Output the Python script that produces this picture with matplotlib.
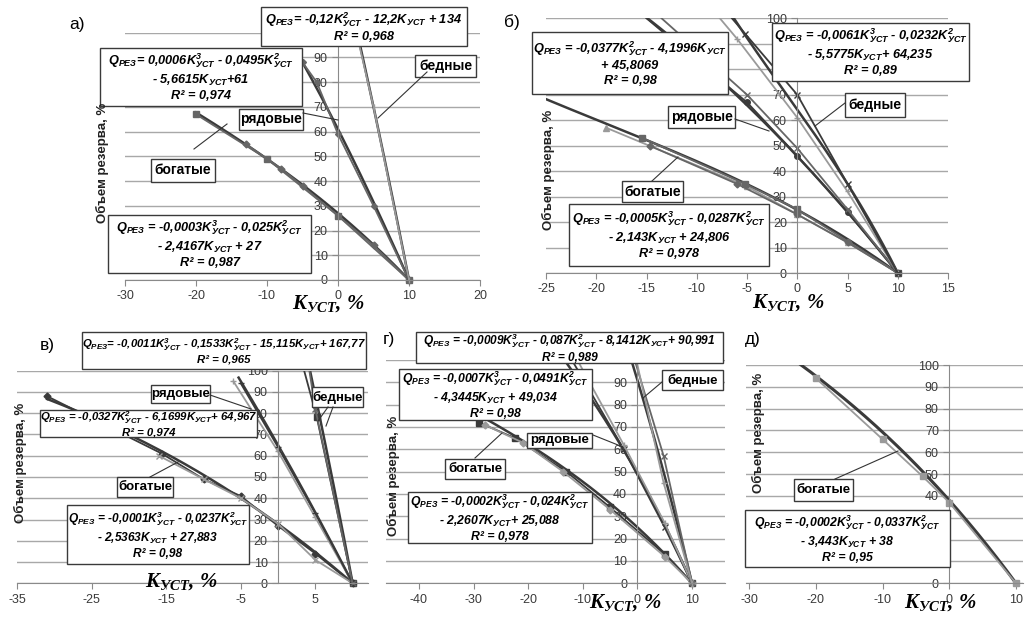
import numpy as np
import matplotlib.pyplot as plt
from matplotlib.patches import Rectangle
from matplotlib.lines import Line2D

plt.rcParams['axes.unicode_minus'] = False
plt.rcParams['font.family'] = ['Liberation Sans', 'DejaVu Sans']

W, H = 1028, 619

# ---------------- data ----------------
# trend coefficients (highest power first), as printed on the chart
a_tr_rich = [-0.0003, -0.025, -2.4167, 27]
a_tr_ord = [0.0006, -0.0495, -5.6615, 61]
a_tr_poor = [-0.12, -12.2, 134]
b_tr_rich = [-0.0005, -0.0287, -2.143, 24.806]
b_tr_ord = [-0.0377, -4.1996, 45.8069]
b_tr_poor = [-0.0061, -0.0232, -5.5775, 64.235]
v_tr_rich = [-0.0001, -0.0237, -2.5363, 27.883]
v_tr_ord = [-0.0327, -6.1699, 64.967]
v_tr_poor = [-0.0011, -0.1533, -15.115, 167.77]
g_tr_rich = [-0.0002, -0.024, -2.2607, 25.088]
g_tr_ord = [-0.0007, -0.0491, -4.3445, 49.034]
g_tr_poor = [-0.0009, -0.087, -8.1412, 90.991]
d_tr_rich = [-0.0002, -0.0337, -3.443, 38]

# panel а
a_rich1_x = [-20, -10, 0, 10]
a_rich1_y = [67, 49, 26, 0]
a_rich2_x = [-13, -8, -5, 5, 10]
a_rich2_y = [55, 45, 38, 14, 0]
a_ord_x = [-5, -3, 0, 5, 10]
a_ord_y = [88, 80, 59, 30, 0]
a_poor_x = [2.6, 5, 10]
a_poor_y = [100, 70, 0]

# panel б
b_rich1_x = [-19, -5, 0, 5, 10]
b_rich1_y = [57, 34, 23, 12, 0]
b_rich2_x = [-15.4, -5.2, 0, 10]
b_rich2_y = [53, 35, 25, 0]
b_rich3_x = [-14.7, -6, 0, 5, 10]
b_rich3_y = [50, 35, 23, 12, 0]
b_ord1_x = [-15, -5, 0, 5, 10]
b_ord1_y = [100, 67, 46, 24, 0]
b_ord2_x = [-13.5, -5, 0, 5, 10]
b_ord2_y = [100, 70, 49, 25, 0]
b_poor1_x = [-7.7, -6, 0, 5, 10]
b_poor1_y = [100, 92, 61, 32, 0]
b_poor2_x = [-6.5, -5.2, 0, 5, 10]
b_poor2_y = [100, 94, 70, 35, 0]

# panel в
v_rich1_x = [-31, -15.6, -10, -5, 0, 5, 10]
v_rich1_y = [88, 61, 49, 41, 27, 14, 0]
v_rich2_x = [-16, -10, -5, 0, 5, 10]
v_rich2_y = [60, 49, 40, 28, 11, 0]
v_ord1_x = [-6, 0, 5, 10]
v_ord1_y = [95, 62, 31, 0]
v_ord2_x = [-5, 0, 5, 10]
v_ord2_y = [94, 64, 33, 0]
v_poor1_x = [3.5, 5.2, 10]
v_poor1_y = [100, 78, 0]
v_poor2_x = [4.2, 5, 10]
v_poor2_y = [100, 82, 0]

# panel г
g_rich1_x = [-29, -22.4, -13, -5, 5, 10]
g_rich1_y = [72, 65, 50, 34, 13, 0]
g_rich2_x = [-28, -21, -13.6, -5, 5, 10]
g_rich2_y = [71, 63, 50, 33, 12, 0]
g_ord1_x = [-12, -2.5, 5, 10]
g_ord1_y = [100, 60, 25, 0]
g_ord2_x = [-11, -2.5, 5, 10]
g_ord2_y = [100, 62, 27, 0]
g_poor1_x = [-0.5, 4.8, 10]
g_poor1_y = [100, 57, 0]
g_poor2_x = [-0.2, 4.8, 10]
g_poor2_y = [100, 45, 0]

# panel д
d_rich_x = [-20, -10, -4, 0, 10]
d_rich_y = [94, 66, 49, 37, 0]

DARK = '#3a3a3a'
MID = '#666666'
LIGHT = '#9a9a9a'

fig = plt.figure(figsize=(W / 100, H / 100), dpi=100)


def fx(x):
    return x / W


def fy(y):
    return 1 - y / H


def make_axes(l, t, r, b, xlim, xticks):
    ax = fig.add_axes([fx(l), fy(b), (r - l) / W, (b - t) / H])
    ax.set_xlim(*xlim)
    ax.set_ylim(0, 100)
    ax.set_xticks(xticks)
    ax.set_yticks(range(0, 101, 10))
    ax.spines['top'].set_visible(False)
    ax.spines['right'].set_visible(False)
    ax.spines['left'].set_position(('data', 0))
    for s in ('left', 'bottom'):
        ax.spines[s].set_color('#8a8a8a')
    ax.tick_params(colors='#8a8a8a', labelcolor='#3a3a3a', labelsize=9,
                   length=4, direction='out')
    ax.grid(axis='y', color='#a8a8a8', lw=1)
    ax.set_axisbelow(True)
    ax.patch.set_alpha(0)
    return ax


def series(ax, x, y, color, marker, ms=4.5, lw=1.3):
    ax.plot(x, y, color=color, lw=lw)
    x = np.asarray(x)
    y = np.asarray(y)
    keep = y < 100
    ax.plot(x[keep], y[keep], ls='none', marker=marker, ms=ms, color=color,
            mec=color, clip_on=False)


def trend(ax, coef, x0, x1, lw=1.8, color=DARK):
    xs = np.linspace(x0, x1, 200)
    ax.plot(xs, np.polyval(coef, xs), color=color, lw=lw)


def box(l, t, r, b, text, size=9.2, italic=True):
    fig.add_artist(Rectangle((fx(l), fy(b)), (r - l) / W, (b - t) / H,
                             transform=fig.transFigure, fc='white',
                             ec='#3a3a3a', lw=1))
    fig.text(fx((l + r) / 2), fy((t + b) / 2), text, ha='center', va='center',
             multialignment='center', fontsize=size, fontweight='bold',
             fontstyle='italic' if italic else 'normal', linespacing=1.25)


def leader(x0, y0, x1, y1):
    fig.add_artist(Line2D([fx(x0), fx(x1)], [fy(y0), fy(y1)],
                          transform=fig.transFigure, color='#333333', lw=0.8))


def K(p=''):
    sup = r'^{\mathregular{%s}}' % p if p else ''
    return r'K$_{\mathregular{УСТ}}' + sup + '$'


Q = r'Q$_{\mathregular{РЕЗ}}$'


def labels(panel, px, py, ylx, yly, xlx, xly):
    fig.text(fx(px), fy(py), panel, fontsize=12.5, ha='center', va='center')
    fig.text(fx(ylx), fy(yly), 'Объем резерва, %', rotation=90, fontsize=9.5,
             fontweight='bold', ha='center', va='center', color='#222222')
    fig.text(fx(xlx), fy(xly), r'K$_{\mathregular{УСТ}}$, %', fontsize=15,
             family='Liberation Serif', fontweight='bold', fontstyle='italic',
             ha='center', va='center')


# ---------------- panel а ----------------
ax = make_axes(125, 32.7, 480, 280, (-30, 20), range(-30, 21, 10))
trend(ax, a_tr_rich, -20, 10)
series(ax, a_rich1_x, a_rich1_y, MID, 's', ms=5)
series(ax, a_rich2_x, a_rich2_y, MID, 'D', ms=3.5)
trend(ax, a_tr_ord, -5, 10)
series(ax, a_ord_x, a_ord_y, MID, 'D', ms=3)
trend(ax, a_tr_poor, 2.5, 10)
series(ax, a_poor_x, a_poor_y, LIGHT, '|', ms=4)

box(261, 7, 467, 46, Q + '= -0,12' + K('2') + ' - 12,2' + K() + ' + 134\nR² = 0,968')
box(100, 48, 302, 106, Q + '= 0,0006' + K('3') + ' - 0,0495' + K('2') +
    '\n- 5,6615' + K() + '+61\nR² = 0,974')
box(108, 215, 311, 273, Q + ' = -0,0003' + K('3') + ' - 0,025' + K('2') +
    '\n- 2,4167' + K() + ' + 27\nR² = 0,987')
leader(427, 72, 378, 118)
leader(303, 113, 338, 120)
leader(194, 149, 227, 124)
box(415, 55, 476, 77, 'бедные', size=10, italic=False)
box(239, 109, 303, 130, 'рядовые', size=10, italic=False)
box(151, 159, 215, 182, 'богатые', size=10, italic=False)
labels('а)', 77, 25, 102, 163, 328, 304)

# ---------------- panel б ----------------
ax = make_axes(546, 18.3, 948, 273, (-25, 15), range(-25, 16, 5))
trend(ax, b_tr_rich, -25, 10)
series(ax, b_rich1_x, b_rich1_y, LIGHT, '^', ms=5)
series(ax, b_rich2_x, b_rich2_y, MID, 's', ms=5)
series(ax, b_rich3_x, b_rich3_y, MID, 'D', ms=3.5)
trend(ax, b_tr_ord, -16, 10)
series(ax, b_ord1_x, b_ord1_y, DARK, 'o', ms=4)
series(ax, b_ord2_x, b_ord2_y, MID, 'x', ms=4)
trend(ax, b_tr_poor, -7, 10)
series(ax, b_poor1_x, b_poor1_y, LIGHT, '+', ms=5)
series(ax, b_poor2_x, b_poor2_y, DARK, 'x', ms=4)

box(532, 32, 728, 94, Q + ' = -0,0377' + K('2') + ' - 4,1996' + K() +
    '\n+ 45,8069\nR² = 0,98')
box(772, 23, 969, 81, Q + ' = -0,0061' + K('3') + ' - 0,0232' + K('2') +
    '\n- 5,5775' + K() + '+ 64,235\nR² = 0,89')
box(569, 204, 769, 266, Q + ' = -0,0005' + K('3') + ' - 0,0287' + K('2') +
    '\n- 2,143' + K() + ' + 24,806\nR² = 0,978')
leader(845, 103, 815, 126)
leader(735, 119, 769, 131)
leader(652, 181, 678, 157)
box(845, 93, 905, 117, 'бедные', size=10, italic=False)
box(668, 106, 735, 128, 'рядовые', size=10, italic=False)
box(622, 181, 683, 202, 'богатые', size=10, italic=False)
labels('б)', 512, 22, 548, 170, 788, 303)

# ---------------- panel в ----------------
ax = make_axes(17.3, 370.7, 367.5, 583.3, (-35, 12), [-35, -25, -15, -5, 5])
trend(ax, v_tr_rich, -31, 10)
series(ax, v_rich1_x, v_rich1_y, DARK, 'D', ms=3.5)
series(ax, v_rich2_x, v_rich2_y, LIGHT, 'x', ms=4)
trend(ax, v_tr_ord, -5.3, 10)
series(ax, v_ord1_x, v_ord1_y, LIGHT, '+', ms=5)
series(ax, v_ord2_x, v_ord2_y, DARK, '_', ms=5)
trend(ax, v_tr_poor, 4, 10)
series(ax, v_poor1_x, v_poor1_y, DARK, 's', ms=4.5)
series(ax, v_poor2_x, v_poor2_y, MID, 'x', ms=4)

box(82, 332, 366, 369, Q + '= -0,0011' + K('3') + ' - 0,1533' + K('2') +
    ' - 15,115' + K() + '+ 167,77\nR² = 0,965', size=8.2)
box(40, 410, 257, 437, Q + ' = -0,0327' + K('2') + ' - 6,1699' + K() +
    '+ 64,967\nR² = 0,974', size=8.2)
box(67, 505, 249, 564, Q + ' = -0,0001' + K('3') + ' - 0,0237' + K('2') +
    '\n- 2,5363' + K() + ' + 27,883\nR² = 0,98', size=8.6)
leader(210, 395, 251, 409)
leader(328, 407, 318, 421)
leader(333, 407, 326, 426)
leader(150, 477, 178, 462)
box(151, 385, 210, 403, 'рядовые', size=9.5, italic=False)
box(312, 387, 363, 407, 'бедные', size=9.5, italic=False)
box(117, 477, 173, 497, 'богатые', size=9.5, italic=False)
labels('в)', 47, 345, 20, 463, 181, 582)

# ---------------- panel г ----------------
ax = make_axes(386.2, 360, 724.8, 583.3, (-46, 16), range(-40, 11, 10))
trend(ax, g_tr_rich, -28.5, 10)
series(ax, g_rich1_x, g_rich1_y, DARK, 's', ms=4.5)
series(ax, g_rich2_x, g_rich2_y, LIGHT, 'D', ms=3.5)
trend(ax, g_tr_ord, -13, 10)
series(ax, g_ord1_x, g_ord1_y, DARK, 'x', ms=4)
series(ax, g_ord2_x, g_ord2_y, LIGHT, '+', ms=5)
trend(ax, g_tr_poor, -1.2, 10)
series(ax, g_poor1_x, g_poor1_y, MID, 'x', ms=4)
series(ax, g_poor2_x, g_poor2_y, LIGHT, '+', ms=5)

box(416, 332, 723, 363, Q + ' = -0,0009' + K('3') + ' - 0,087' + K('2') +
    ' - 8,1412' + K() + '+ 90,991\nR² = 0,989', size=8.6)
box(399, 369, 592, 420, Q + ' = -0,0007' + K('3') + ' - 0,0491' + K('2') +
    '\n- 4,3445' + K() + ' + 49,034\nR² = 0,98', size=8.8)
box(408, 492, 592, 543, Q + ' = -0,0002' + K('3') + ' - 0,024' + K('2') +
    '\n- 2,2607' + K() + '+ 25,088\nR² = 0,978', size=8.8)
leader(593, 435, 623, 447)
leader(475, 458, 502, 433)
leader(662, 382, 643, 398)
box(527, 433, 592, 448, 'рядовые', size=9.5, italic=False)
box(445, 459, 505, 479, 'богатые', size=9.5, italic=False)
box(662, 370, 723, 390, 'бедные', size=9.5, italic=False)
labels('г)', 389, 340, 393, 476, 625, 603)

# ---------------- panel д ----------------
ax = make_axes(745.7, 365, 1022.7, 583.3, (-30.5, 11), range(-30, 11, 10))
trend(ax, d_tr_rich, -22.6, 10, lw=2.2)
series(ax, d_rich_x, d_rich_y, LIGHT, 's', ms=5)

box(745, 510, 950, 567, Q + ' = -0,0002' + K('3') + ' - 0,0337' + K('2') +
    '\n- 3,443' + K() + ' + 38\nR² = 0,95', size=8.8)
leader(835, 479, 898, 451)
box(794, 479, 853, 501, 'богатые', size=9.5, italic=False)
labels('д)', 753, 340, 758, 433, 940, 603)

fig.savefig('out.png', dpi=100)
